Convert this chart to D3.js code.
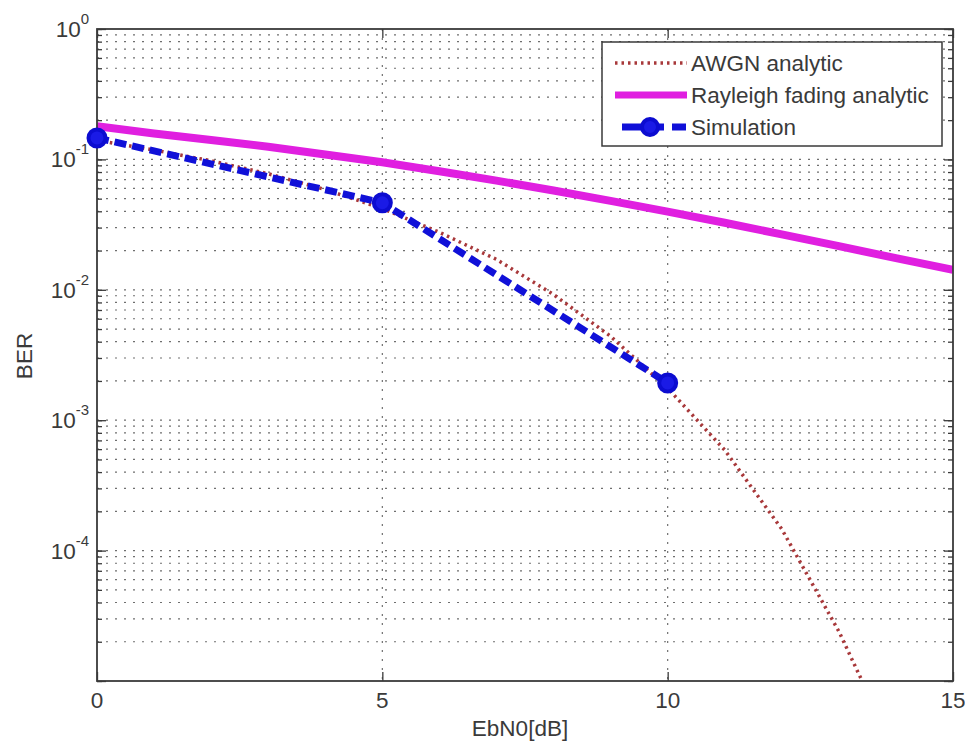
<!DOCTYPE html>
<html>
<head>
<meta charset="utf-8">
<script src="https://cdn.jsdelivr.net/npm/d3@7"></script>
<style>
  html, body { margin: 0; padding: 0; background: #ffffff; }
  svg { display: block; font-family: "Liberation Sans", Arial, Helvetica, sans-serif; }
</style>
</head>
<body>
<svg id="chart" width="965" height="746"></svg>
<script>
// BER versus Eb/N0 values
const awgnEbN0 = [0, 1, 2, 3, 4, 5, 6, 7, 8, 9, 10, 11, 12, 13, 14];
const awgnBer = [0.140, 0.118, 0.0975, 0.0776, 0.0587, 0.0420, 0.0276, 0.0171, 0.0092, 0.0044, 0.00176, 0.00059, 0.000146, 0.000024, 0.0000028];

const rayleighEbN0 = [0, 1, 2, 3, 4, 5, 6, 7, 8, 9, 10, 11, 12, 13, 14, 15];
const rayleighBer = [0.180, 0.158, 0.141, 0.125, 0.109, 0.0950, 0.0812, 0.0688, 0.0577, 0.0481, 0.0398, 0.0327, 0.0266, 0.0216, 0.0175, 0.0142];

const simEbN0 = [0, 5, 10];
const simBer = [0.146, 0.0465, 0.00193];

const xTicks = [0, 5, 10, 15];
const yTickExponents = [0, -1, -2, -3, -4];
const legendLabels = ["AWGN analytic", "Rayleigh fading analytic", "Simulation"];

// Layout
const svg = d3.select("#chart");
const plotLeft = 97, plotRight = 953, plotTop = 29, plotBottom = 681;
const axisColor = "#3a3a3a";
const textColor = "#3a3a3a";
const fontSize = 22.5;
const awgnColor = "#a8383a", rayleighColor = "#e01fe0", simColor = "#1010d8";

const x = d3.scaleLinear().domain([0, 15]).range([plotLeft, plotRight]);
const y = d3.scaleLog().domain([1e-5, 1]).range([plotBottom, plotTop]);

// Minor (and major) decade positions for the log axis
const decades = [-5, -4, -3, -2, -1];
const logTicks = [];
decades.forEach(e => { for (let k = 1; k <= 9; k++) logTicks.push(k * Math.pow(10, e)); });
logTicks.push(1);
const majorY = yTickExponents.map(e => Math.pow(10, e)).concat([1e-5]);

// Grid
const grid = svg.append("g").attr("class", "grid")
  .attr("stroke", "#6f6f6f").attr("stroke-width", 1.2).attr("stroke-dasharray", "2,7");
grid.selectAll("line.h").data(logTicks.filter(v => v > 1e-5 && v < 1)).join("line")
  .attr("class", "h")
  .attr("x1", plotLeft).attr("x2", plotRight)
  .attr("y1", d => y(d)).attr("y2", d => y(d));
grid.selectAll("line.v").data(xTicks.filter(v => v > 0 && v < 15)).join("line")
  .attr("class", "v")
  .attr("y1", plotTop).attr("y2", plotBottom)
  .attr("x1", d => x(d)).attr("x2", d => x(d));

// Axes with inward ticks on all four sides
function styleAxis(g) {
  g.select(".domain").remove();
  g.selectAll(".tick line").attr("stroke", axisColor).attr("stroke-width", 1.3);
  g.selectAll(".tick text").remove();
}
svg.append("g").attr("transform", `translate(${plotLeft},0)`)
  .call(d3.axisLeft(y).tickValues(logTicks).tickSizeInner(-5).tickSizeOuter(0).tickFormat(""))
  .call(styleAxis);
svg.append("g").attr("transform", `translate(${plotLeft},0)`)
  .call(d3.axisLeft(y).tickValues(majorY).tickSizeInner(-9).tickSizeOuter(0).tickFormat(""))
  .call(styleAxis);
svg.append("g").attr("transform", `translate(${plotRight},0)`)
  .call(d3.axisRight(y).tickValues(logTicks).tickSizeInner(-5).tickSizeOuter(0).tickFormat(""))
  .call(styleAxis);
svg.append("g").attr("transform", `translate(${plotRight},0)`)
  .call(d3.axisRight(y).tickValues(majorY).tickSizeInner(-9).tickSizeOuter(0).tickFormat(""))
  .call(styleAxis);
svg.append("g").attr("transform", `translate(0,${plotBottom})`)
  .call(d3.axisBottom(x).tickValues(xTicks).tickSizeInner(-9).tickSizeOuter(0).tickFormat(""))
  .call(styleAxis);
svg.append("g").attr("transform", `translate(0,${plotTop})`)
  .call(d3.axisTop(x).tickValues(xTicks).tickSizeInner(-9).tickSizeOuter(0).tickFormat(""))
  .call(styleAxis);

// Clip region for the curves
svg.append("clipPath").attr("id", "plotClip")
  .append("rect").attr("x", plotLeft).attr("y", plotTop)
  .attr("width", plotRight - plotLeft).attr("height", plotBottom - plotTop);

const plot = svg.append("g").attr("clip-path", "url(#plotClip)");
const line = d3.line().x(d => x(d[0])).y(d => y(d[1]));

// Rayleigh fading analytic
plot.append("path")
  .datum(rayleighEbN0.map((v, i) => [v, rayleighBer[i]]))
  .attr("d", line).attr("fill", "none")
  .attr("stroke", rayleighColor).attr("stroke-width", 8).attr("stroke-linejoin", "round");

// AWGN analytic
plot.append("path")
  .datum(awgnEbN0.map((v, i) => [v, awgnBer[i]]))
  .attr("d", line).attr("fill", "none")
  .attr("stroke", awgnColor).attr("stroke-width", 3.5).attr("stroke-dasharray", "2.5,4");

// Simulation
plot.append("path")
  .datum(simEbN0.map((v, i) => [v, simBer[i]]))
  .attr("d", line).attr("fill", "none")
  .attr("stroke", simColor).attr("stroke-width", 7).attr("stroke-dasharray", "12,6");

// Box
svg.append("rect").attr("x", plotLeft).attr("y", plotTop)
  .attr("width", plotRight - plotLeft).attr("height", plotBottom - plotTop)
  .attr("fill", "none").attr("stroke", axisColor).attr("stroke-width", 1.8);

// Tick labels
svg.append("g").selectAll("text").data(xTicks).join("text")
  .attr("x", d => x(d)).attr("y", 708)
  .attr("text-anchor", "middle").attr("fill", textColor).attr("font-size", fontSize)
  .text(d => d);

const yLabels = svg.append("g").selectAll("text").data(yTickExponents).join("text")
  .attr("x", 89).attr("y", d => y(Math.pow(10, d)) + 8)
  .attr("text-anchor", "end").attr("fill", textColor).attr("font-size", fontSize);
yLabels.append("tspan").text("10");
yLabels.append("tspan").attr("dy", -13).attr("font-size", 15).text(d => d === 0 ? "0" : "-" + Math.abs(d));

// Axis titles
svg.append("text").attr("x", 520).attr("y", 736).attr("text-anchor", "middle")
  .attr("fill", textColor).attr("font-size", fontSize).text("EbN0[dB]");
svg.append("text").attr("transform", "translate(32,356) rotate(-90)").attr("text-anchor", "middle")
  .attr("fill", textColor).attr("font-size", fontSize).text("BER");

// Simulation markers (drawn over the axes, not clipped)
svg.append("g").selectAll("circle").data(simEbN0.map((v, i) => [v, simBer[i]])).join("circle")
  .attr("cx", d => x(d[0])).attr("cy", d => y(d[1])).attr("r", 8.5)
  .attr("fill", "#1a1ae6").attr("stroke", "#0c0cd0").attr("stroke-width", 4);

// Legend
const lg = svg.append("g");
lg.append("rect").attr("x", 602).attr("y", 42).attr("width", 340).attr("height", 104)
  .attr("fill", "#ffffff").attr("stroke", axisColor).attr("stroke-width", 1.5);
const rowY = [63, 95, 127];
lg.append("line").attr("x1", 615).attr("x2", 687).attr("y1", rowY[0]).attr("y2", rowY[0])
  .attr("stroke", awgnColor).attr("stroke-width", 3.5).attr("stroke-dasharray", "2.5,4");
lg.append("line").attr("x1", 615).attr("x2", 687).attr("y1", rowY[1]).attr("y2", rowY[1])
  .attr("stroke", rayleighColor).attr("stroke-width", 7);
lg.append("line").attr("x1", 622).attr("x2", 686).attr("y1", rowY[2]).attr("y2", rowY[2])
  .attr("stroke", simColor).attr("stroke-width", 7).attr("stroke-dasharray", "42,8");
lg.append("circle").attr("cx", 650).attr("cy", rowY[2]).attr("r", 8)
  .attr("fill", "#1a1ae6").attr("stroke", "#0c0cd0").attr("stroke-width", 4);
lg.selectAll("text").data(legendLabels).join("text")
  .attr("x", 691).attr("y", (d, i) => rowY[i] + 8)
  .attr("fill", textColor).attr("font-size", fontSize).text(d => d);
</script>
</body>
</html>
